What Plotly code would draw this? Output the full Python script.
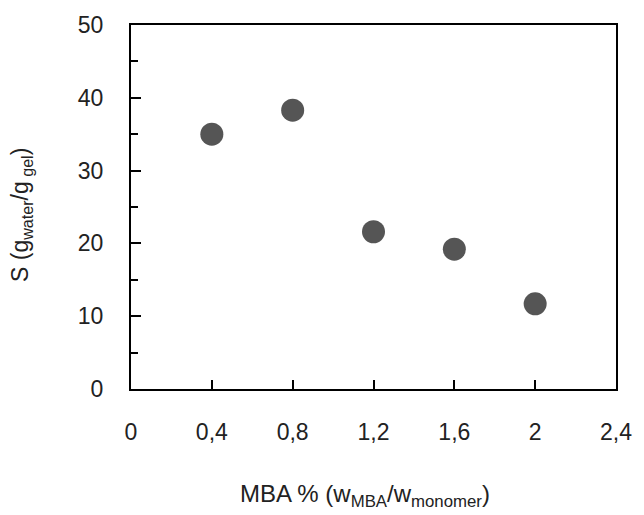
import plotly.graph_objects as go

mba = [0.4, 0.8, 1.2, 1.6, 2.0]
swelling = [35.0, 38.3, 21.6, 19.2, 11.7]
x_ticks = [0, 0.4, 0.8, 1.2, 1.6, 2.0, 2.4]
x_tick_labels = ["0", "0,4", "0,8", "1,2", "1,6", "2", "2,4"]
y_ticks = [0, 10, 20, 30, 40, 50]

FONT = "Liberation Sans, Arial, sans-serif"

fig = go.Figure()
fig.add_trace(go.Scatter(
    x=mba, y=swelling, mode="markers",
    marker=dict(size=23, color="#555555", line=dict(width=0)),
    showlegend=False,
))

fig.update_layout(
    width=644, height=515,
    margin=dict(l=131, r=25, t=23, b=126),
    paper_bgcolor="white", plot_bgcolor="white",
    font=dict(family=FONT, color="#222222"),
)
fig.update_xaxes(
    range=[0, 2.4], tickvals=x_ticks, ticktext=x_tick_labels,
    ticks="inside", ticklen=9, tickwidth=2, tickcolor="black",
    showline=True, linewidth=2, linecolor="black", mirror=True,
    showgrid=False, zeroline=False,
    tickfont=dict(size=23, family=FONT, color="#222222"),
    ticklabelstandoff=21,
)
fig.update_yaxes(
    range=[0, 50], tickvals=y_ticks,
    ticks="inside", ticklen=10, tickwidth=2, tickcolor="black",
    minor=dict(ticks="inside", ticklen=7, tickwidth=2, tickcolor="black", dtick=5, tick0=0),
    showline=True, linewidth=2, linecolor="black", mirror=True,
    showgrid=False, zeroline=False,
    tickfont=dict(size=23, family=FONT, color="#222222"),
    ticklabelstandoff=21,
)
fig.add_annotation(
    text="S (g<sub>water</sub>/g<sub> gel</sub>)",
    xref="paper", yref="paper", x=0, y=0.5, xanchor="center", yanchor="middle",
    xshift=-110, yshift=-8, textangle=-90, showarrow=False,
    font=dict(size=23, family=FONT, color="#222222"),
)
fig.add_annotation(
    text="MBA % (w<sub>MBA</sub>/w<sub>monomer</sub>)",
    xref="paper", yref="paper", x=0.5, y=0, xanchor="center", yanchor="middle",
    xshift=-9, yshift=-106, showarrow=False,
    font=dict(size=24, family=FONT, color="#222222"),
)

fig.write_html("out.html")
